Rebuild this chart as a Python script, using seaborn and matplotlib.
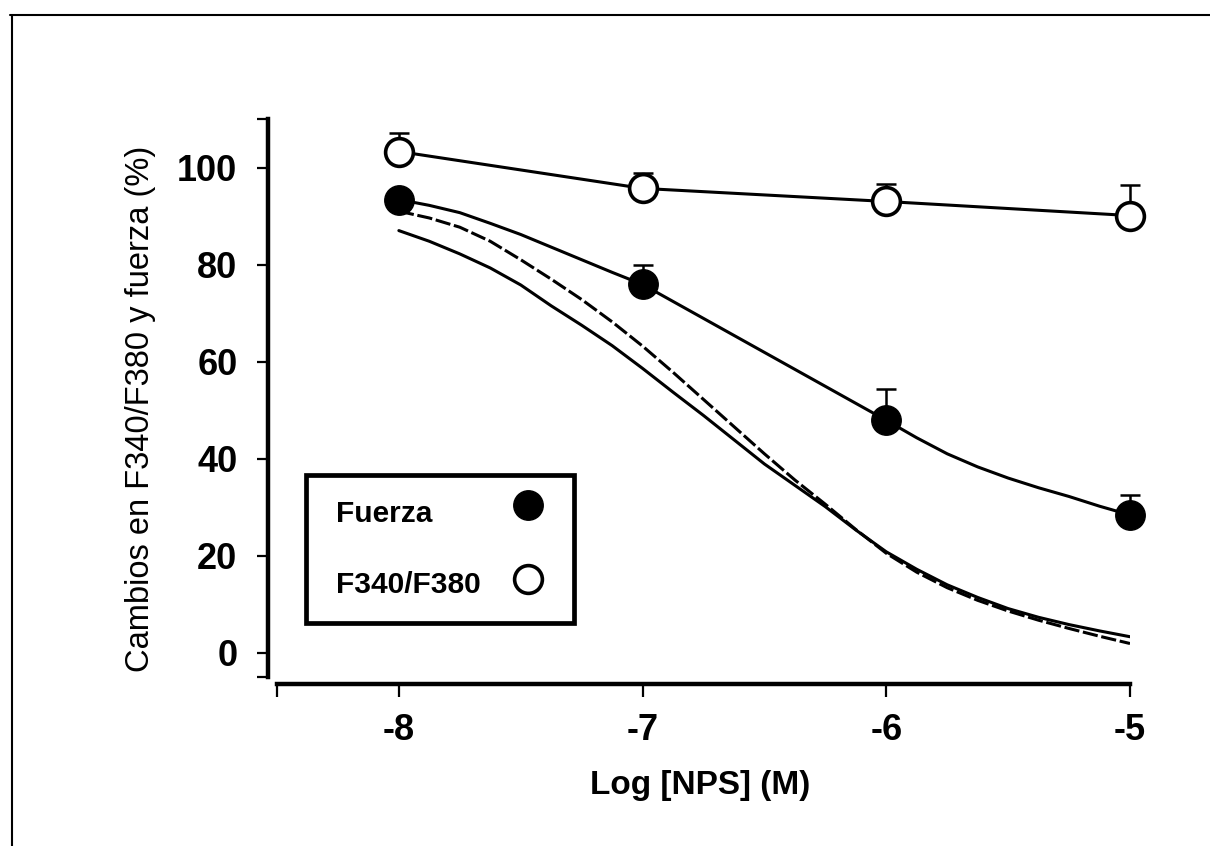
import matplotlib
matplotlib.use('Agg')
import matplotlib.pyplot as plt
import seaborn as sns
from matplotlib.lines import Line2D
from matplotlib.patches import Rectangle

# concentraciones (log M) de los puntos experimentales
log_nps = [-8, -7, -6, -5]

# fuerza (circulos llenos) y F340/F380 (circulos vacios), con error superior
fuerza = [93.4, 75.9, 47.9, 28.4]
fuerza_err = [0.0, 4.1, 6.4, 4.1]
ratio = [103.3, 95.7, 93.0, 90.1]
ratio_err = [3.9, 3.1, 3.7, 6.2]

curve_x = [-8.0, -7.875, -7.75, -7.625, -7.5, -7.375, -7.25, -7.125, -7.0,
           -6.875, -6.75, -6.625, -6.5, -6.375, -6.25, -6.125, -6.0,
           -5.875, -5.75, -5.625, -5.5, -5.375, -5.25, -5.125, -5.0]
curve_fuerza = [93.4, 92.2, 90.7, 88.5, 86.2, 83.6, 81.0, 78.4, 75.9,
                72.4, 68.9, 65.4, 61.9, 58.4, 54.9, 51.4, 47.9,
                44.3, 41.0, 38.3, 36.0, 34.0, 32.2, 30.2, 28.4]
curve_dashed = [91.0, 89.6, 87.7, 84.8, 81.0, 77.0, 72.8, 68.2, 63.2,
                57.8, 52.2, 46.6, 41.0, 35.6, 30.6, 25.4, 20.5,
                16.6, 13.4, 10.8, 8.6, 6.7, 5.0, 3.4, 1.9]
curve_solid = [87.0, 84.8, 82.2, 79.3, 75.8, 71.5, 67.5, 63.3, 58.6,
               53.7, 48.9, 43.9, 38.9, 34.5, 30.1, 25.3, 20.8,
               17.2, 14.0, 11.4, 9.1, 7.3, 5.8, 4.5, 3.3]

x_ticks = [-8, -7, -6, -5]
y_ticks = [0, 20, 40, 60, 80, 100]
legend_labels = ['Fuerza', 'F340/F380']

sns.set_style('ticks', rc={'axes.edgecolor': 'black', 'xtick.color': 'black',
                           'ytick.color': 'black', 'text.color': 'black',
                           'axes.labelcolor': 'black'})
plt.rcParams['font.family'] = ['Liberation Sans', 'DejaVu Sans']
plt.rcParams['axes.unicode_minus'] = False

fig = plt.figure(figsize=(12.1, 8.46), dpi=100)
ax = fig.add_axes([277 / 1210, 169 / 846, 853 / 1210, 558 / 846])

lw = 2.2
sns.lineplot(x=curve_x, y=curve_solid, ax=ax, color='black', lw=lw, sort=False, estimator=None)
sns.lineplot(x=curve_x, y=curve_dashed, ax=ax, color='black', lw=lw, sort=False, estimator=None,
             linestyle=(0, (5, 1.2)))
sns.lineplot(x=curve_x, y=curve_fuerza, ax=ax, color='black', lw=lw, sort=False, estimator=None)
sns.lineplot(x=log_nps, y=ratio, ax=ax, color='black', lw=lw, sort=False, estimator=None)

for vals, errs in [(fuerza, fuerza_err), (ratio, ratio_err)]:
    eb = ax.errorbar(log_nps, vals, yerr=[[0] * len(errs), errs], fmt='none', ecolor='black',
                     elinewidth=1.8, capsize=7.5, capthick=1.8, zorder=3)
    for art in eb.lines[1] + eb.lines[2]:
        art.set_clip_on(False)

filled_kw = dict(s=450, color='black', edgecolor='black', linewidth=1)
open_kw = dict(s=400, color='white', edgecolor='black', linewidth=2.6)
sns.scatterplot(x=log_nps, y=fuerza, ax=ax, zorder=5, clip_on=False, legend=False, **filled_kw)
sns.scatterplot(x=log_nps, y=ratio, ax=ax, zorder=5, clip_on=False, legend=False, **open_kw)

sns.despine(ax=ax, offset={'left': 6.5, 'bottom': 5})
for side in ['left', 'bottom']:
    ax.spines[side].set_linewidth(3.2)

ax.set_xlim(-8.5, -5)
ax.set_ylim(-5, 110)
ax.set_xticks([-8.5], minor=True)
ax.set_yticks([-5, 110], minor=True)
ax.tick_params(axis='both', which='both', direction='out', width=1.6, labelsize=26)
ax.tick_params(axis='y', which='both', length=8, pad=14)
ax.tick_params(axis='x', which='both', length=9, pad=12)
ax.set_xticks(x_ticks, [str(v) for v in x_ticks], fontweight='bold', fontsize=26)
ax.set_yticks(y_ticks, [str(v) for v in y_ticks], fontweight='bold', fontsize=26)

ax.set_xlabel('Log [NPS] (M)', fontsize=24, fontweight='bold')
ax.set_ylabel('Cambios en F340/F380 y fuerza (%)', fontsize=23.5)
ax.xaxis.set_label_coords(0.496, -0.166)
ax.yaxis.set_label_coords(-0.142, 0.48)

# leyenda dibujada a mano: texto a la izquierda, simbolo a la derecha
ax.add_patch(Rectangle((0.034, 0.0968), 0.314, 0.265, transform=ax.transAxes, facecolor='white',
                       edgecolor='black', lw=3.4, zorder=6, clip_on=False))
text_y = [0.2778, 0.1505]
mark_y = [0.3082, 0.1756]
for lab, ty, my, kw in zip(legend_labels, text_y, mark_y, [filled_kw, open_kw]):
    ax.text(0.0692, ty, lab, transform=ax.transAxes, fontsize=21.5, fontweight='bold',
            ha='left', va='baseline', zorder=7)
    ax.scatter([0.2943], [my], transform=ax.transAxes, zorder=7, clip_on=False, **kw)

# marco de la pagina escaneada
fig.add_artist(Line2D([10 / 1210, 1], [1 - 15 / 846, 1 - 15 / 846], transform=fig.transFigure,
                      color='black', lw=1.5))
fig.add_artist(Line2D([12 / 1210, 12 / 1210], [0, 1 - 15 / 846], transform=fig.transFigure,
                      color='black', lw=1.5))

for lab in ax.get_xticklabels() + ax.get_yticklabels():
    lab.set_fontweight('bold')

fig.savefig('out.png', dpi=100)
